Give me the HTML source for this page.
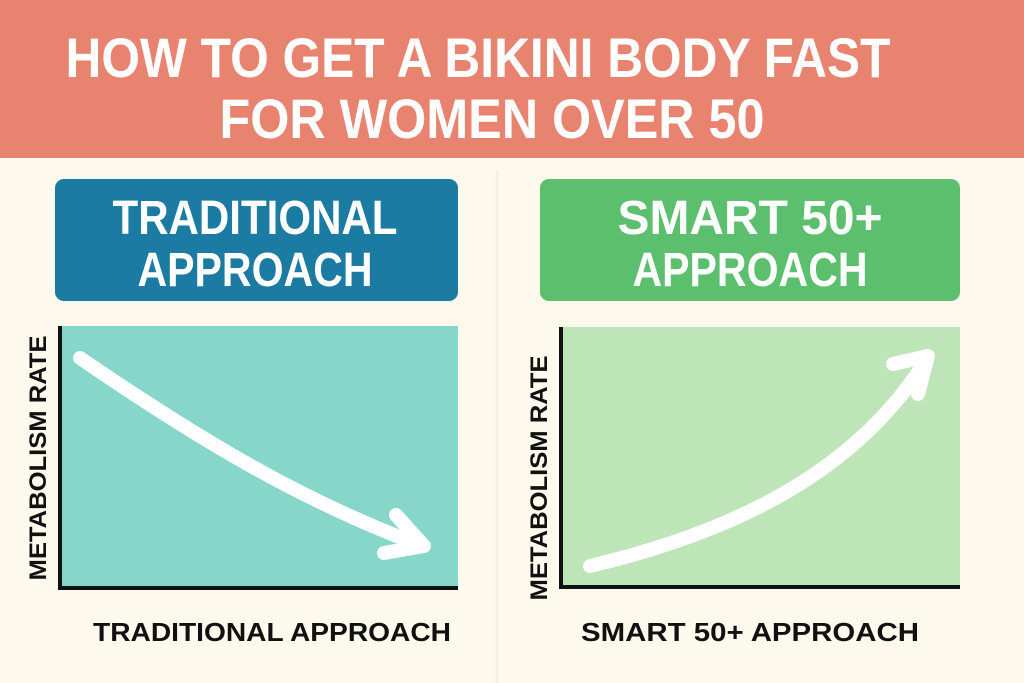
<!DOCTYPE html>
<html><head><meta charset="utf-8"><style>
html,body{margin:0;padding:0;background:#FDF9EC}
svg{display:block}
text{font-family:"Liberation Sans",sans-serif;font-weight:bold}
</style></head><body>
<svg width="1024" height="683" viewBox="0 0 1024 683">
<rect width="1024" height="683" fill="#FDF9EC"/>
<rect width="1024" height="158" fill="#E8836F"/>
<text x="478" y="77" font-size="56" fill="#fff" text-anchor="middle" textLength="825" lengthAdjust="spacingAndGlyphs">HOW TO GET A BIKINI BODY FAST</text>
<text x="492" y="138" font-size="56" fill="#fff" text-anchor="middle" textLength="545" lengthAdjust="spacingAndGlyphs">FOR WOMEN OVER 50</text>
<line x1="497" y1="170" x2="497" y2="683" stroke="#F4EFE0" stroke-width="3"/>
<rect x="55" y="179" width="403" height="122" rx="9" fill="#1B7BA3"/>
<text x="255" y="234" font-size="48" fill="#fff" text-anchor="middle" textLength="285" lengthAdjust="spacingAndGlyphs">TRADITIONAL</text>
<text x="255" y="286" font-size="48" fill="#fff" text-anchor="middle" textLength="235" lengthAdjust="spacingAndGlyphs">APPROACH</text>
<rect x="540" y="179" width="420" height="122" rx="9" fill="#5BBF6E"/>
<text x="750" y="234" font-size="48" fill="#fff" text-anchor="middle" textLength="265" lengthAdjust="spacingAndGlyphs">SMART 50+</text>
<text x="750" y="286" font-size="48" fill="#fff" text-anchor="middle" textLength="235" lengthAdjust="spacingAndGlyphs">APPROACH</text>
<rect x="61" y="326" width="397" height="262" fill="#86D6CA"/>
<rect x="58" y="326" width="4" height="264" fill="#111"/>
<rect x="58" y="586" width="400" height="4" fill="#111"/>
<rect x="563" y="327" width="397" height="260" fill="#BDE5B8"/>
<rect x="559" y="327" width="4" height="262" fill="#111"/>
<rect x="559" y="585" width="401" height="4" fill="#111"/>
<path d="M80 358 C200 440 300 500 420 545" fill="none" stroke="#fff" stroke-width="14" stroke-linecap="round"/>
<path d="M396 515 L424 546 L384 553" fill="none" stroke="#fff" stroke-width="14" stroke-linecap="round" stroke-linejoin="round"/>
<path d="M590 566 C720 535 850 480 925 362" fill="none" stroke="#fff" stroke-width="14" stroke-linecap="round"/>
<path d="M893 364 L928 356 L918 394" fill="none" stroke="#fff" stroke-width="14" stroke-linecap="round" stroke-linejoin="round"/>
<text transform="translate(46,458) rotate(-90)" font-size="24" fill="#111" text-anchor="middle" textLength="245" lengthAdjust="spacingAndGlyphs">METABOLISM RATE</text>
<text transform="translate(547,478) rotate(-90)" font-size="24" fill="#111" text-anchor="middle" textLength="245" lengthAdjust="spacingAndGlyphs">METABOLISM RATE</text>
<text x="272" y="641" font-size="26" fill="#111" text-anchor="middle" textLength="358" lengthAdjust="spacingAndGlyphs">TRADITIONAL APPROACH</text>
<text x="750" y="641" font-size="26" fill="#111" text-anchor="middle" textLength="338" lengthAdjust="spacingAndGlyphs">SMART 50+ APPROACH</text>
</svg>
</body></html>
